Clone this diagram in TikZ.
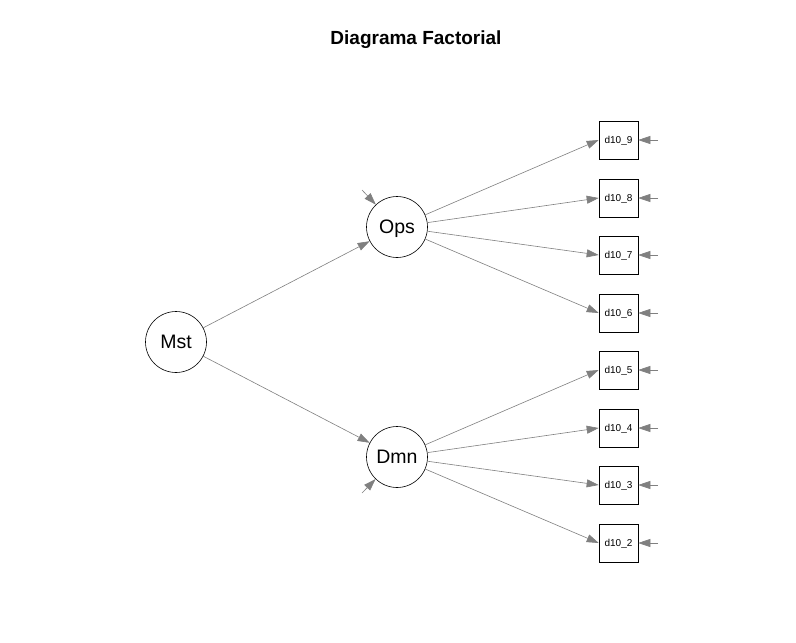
\documentclass[tikz,border=0pt]{standalone}
\usepackage{fontspec}
\setmainfont{Liberation Sans}
\usetikzlibrary{arrows.meta}
\begin{document}
\begin{tikzpicture}[x=1pt,y=-1pt,
  lat/.style={circle,draw=black,line width=0.6pt,minimum size=61pt,inner sep=0pt,text depth=0pt,font=\fontsize{19.5}{19.5}\selectfont},
  obs/.style={rectangle,draw=black,line width=0.6pt,minimum width=39pt,minimum height=38pt,inner sep=0pt,text depth=0pt,font=\fontsize{10}{10}\selectfont},
  arr/.style={draw=gray,line width=0.6pt,-{Triangle[length=12pt,width=8pt,fill=gray]}},
  ttl/.style={font=\bfseries\fontsize{19}{19}\selectfont}]
\useasboundingbox[fill=white] (0,0) rectangle (796,643);
\node[ttl] (title) at (416,40) {Diagrama Factorial};
\node[lat] (mst) at (176,342) {Mst};
\node[lat] (ops) at (397,227) {Ops};
\node[lat] (dmn) at (397,457) {Dmn};
\foreach \n/\y in {9/140,8/198,7/255,6/313,5/370,4/428,3/485,2/543}{
  \node[obs] (b\n) at (618.5,\y) {d10\_\n};
  \coordinate (r\n) at (658,\y);
  \draw[arr] (r\n) -- (b\n);
}
\foreach \n in {9,8,7,6}{\draw[arr] (ops) -- (b\n.west);}
\foreach \n in {5,4,3,2}{\draw[arr] (dmn) -- (b\n.west);}
\draw[arr] (mst) -- (ops);
\draw[arr] (mst) -- (dmn);
\coordinate (eo) at (362,190);
\coordinate (ed) at (362,493);
\draw[arr] (eo) -- (ops);
\draw[arr] (ed) -- (dmn);
\end{tikzpicture}
\end{document}
